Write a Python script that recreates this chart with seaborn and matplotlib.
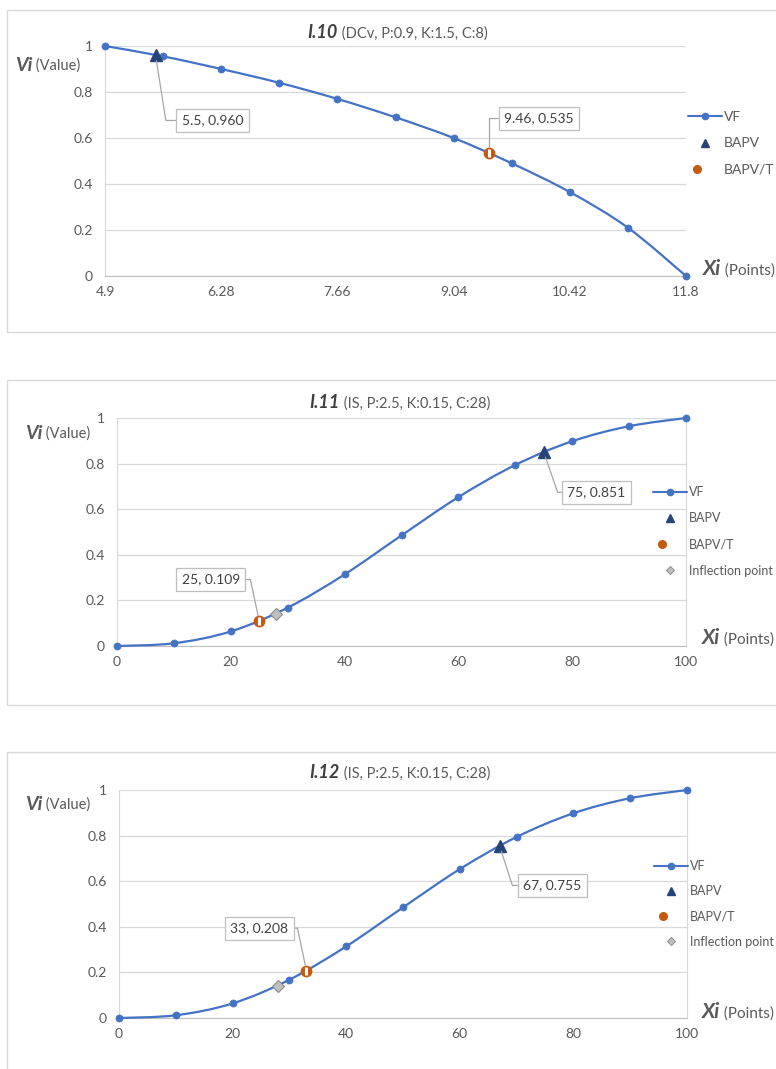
import numpy as np
import matplotlib
matplotlib.use("Agg")
import matplotlib.pyplot as plt
import seaborn as sns
from matplotlib.path import Path
from matplotlib.patches import PathPatch, Rectangle
from matplotlib.lines import Line2D
from matplotlib.legend_handler import HandlerTuple
from matplotlib.ticker import AutoMinorLocator

# ---------------- data ----------------
dcv_points = [4.9, 5.59, 6.28, 6.97, 7.66, 8.35, 9.04, 9.73, 10.42, 11.11, 11.8]
dcv_values = [1.0, 0.955, 0.90, 0.84, 0.77, 0.69, 0.60, 0.49, 0.365, 0.21, 0.0]
dcv_ticks = [4.9, 6.28, 7.66, 9.04, 10.42, 11.8]
dcv_tick_labels = ["4.9", "6.28", "7.66", "9.04", "10.42", "11.8"]

is_points = [0, 10, 20, 30, 40, 50, 60, 70, 80, 90, 100]
is_values = [0.0, 0.012, 0.064, 0.168, 0.314, 0.485, 0.653, 0.794, 0.898, 0.964, 1.0]
is_ticks = [0, 20, 40, 60, 80, 100]
is_tick_labels = ["0", "20", "40", "60", "80", "100"]

value_ticks = [0, 0.2, 0.4, 0.6, 0.8, 1.0]
value_tick_labels = ["0", "0.2", "0.4", "0.6", "0.8", "1"]

titles = ["I.10", "I.11", "I.12"]
subtitles = ["(DCv, P:0.9, K:1.5, C:8)",
             "(IS, P:2.5, K:0.15, C:28)",
             "(IS, P:2.5, K:0.15, C:28)"]

bapv = [(5.5, 0.960), (75, 0.851), (67, 0.755)]
bapv_t = [(9.46, 0.535), (25, 0.109), (33, 0.208)]
inflection = [None, (28, 0.142), (28, 0.142)]

series = [(dcv_points, dcv_values, dcv_ticks, dcv_tick_labels, 5),
          (is_points, is_values, is_ticks, is_tick_labels, 4),
          (is_points, is_values, is_ticks, is_tick_labels, 4)]

# ---------------- styling ----------------
BLUE = "#4472C4"
NAVY = "#264478"
ORANGE = "#C55A11"
GRID = "#D9D9D9"
TXT = "#595959"
DARK = "#404040"

sns.set_style("white")
plt.rcParams["font.family"] = ["Lato", "DejaVu Sans"]

W, H = 776, 1069
fig = plt.figure(figsize=(W / 100, H / 100), dpi=100)


def fx(px):
    return px / W


def fy(py):
    return 1 - py / H


# layout per panel, in pixels
layout = [
    dict(ax=(105, 46, 686, 276), box=(7, 10, 800, 332), title=(338, 33),
         vlab=(15, 65), xlab=(703, 269), leg=(688, 111), lsp=1.04, lfs=10,
         right_spine=False,
         ann_bapv=dict(off=(41, -47), rel=(0, 0.5), angB=-81),
         ann_bapvt=dict(off=(36, 25), rel=(0, 0.5), angB=90)),
    dict(ax=(117, 418, 686, 646), box=(7, 380, 800, 705), title=(340, 403),
         vlab=(25, 433), xlab=(702, 638), leg=(653, 486), lsp=1.14, lfs=9,
         right_spine=True,
         ann_bapv=dict(off=(38, -29), rel=(0, 0.5), angB=-71),
         ann_bapvt=dict(off=(-35, 30), rel=(1, 0.5), angB=102)),
    dict(ax=(119, 790, 687, 1018), box=(7, 752, 800, 1100), title=(340, 773),
         vlab=(25, 804), xlab=(702, 1012), leg=(654, 860), lsp=1.06, lfs=9,
         right_spine=True,
         ann_bapv=dict(off=(38, -28.5), rel=(0, 0.5), angB=-72),
         ann_bapvt=dict(off=(-34, 30.5), rel=(1, 0.5), angB=102)),
]


def smooth_path(xs, ys):
    """Cubic Bezier path through the points (Catmull-Rom style tangents)."""
    p = np.column_stack([xs, ys]).astype(float)
    n = len(p)
    verts, codes = [p[0]], [Path.MOVETO]
    for i in range(n - 1):
        p0 = p[i - 1] if i > 0 else p[i]
        p3 = p[i + 2] if i + 2 < n else p[i + 1]
        c1 = p[i] + (p[i + 1] - p0) / 6
        c2 = p[i + 1] - (p3 - p[i]) / 6
        verts += [c1, c2, p[i + 1]]
        codes += [Path.CURVE4] * 3
    return Path(verts, codes)


def add_label(ax, x, y, spec):
    ax.annotate(f"{x:g}, {y:.3f}", xy=(x, y), xytext=spec["off"],
                textcoords="offset points", ha="center", va="center",
                fontsize=10, color=DARK, zorder=6,
                bbox=dict(boxstyle="square,pad=0.4", fc="white", ec="#BFBFBF", lw=0.9),
                arrowprops=dict(arrowstyle="-", color="#A6A6A6", lw=0.9,
                                relpos=spec["rel"], shrinkA=0, shrinkB=4,
                                connectionstyle=f"angle,angleA=0,angleB={spec['angB']},rad=0"))


for k, (xs, ys, ticks, tlabels, nminor) in enumerate(series):
    L = layout[k]
    l, t, r, b = L["ax"]

    # panel frame
    bl, bt, br, bb = L["box"]
    fig.patches.append(Rectangle((fx(bl), fy(bb)), fx(br - bl), (bb - bt) / H,
                                 transform=fig.transFigure, fill=False,
                                 ec=GRID, lw=1.0, zorder=0))

    ax = fig.add_axes([fx(l), fy(b), fx(r - l), (b - t) / H])
    ax.set_xlim(xs[0], xs[-1])
    ax.set_ylim(0, 1)

    # horizontal gridlines
    ax.set_yticks(value_ticks)
    ax.set_yticklabels(value_tick_labels)
    ax.yaxis.grid(True, color=GRID, lw=0.9)
    ax.set_axisbelow(True)
    ax.set_xticks(ticks)
    ax.set_xticklabels(tlabels)
    ax.xaxis.set_minor_locator(AutoMinorLocator(nminor))

    for side in ["top", "right", "left", "bottom"]:
        ax.spines[side].set_visible(False)
    ax.spines["bottom"].set_visible(True)
    ax.spines["bottom"].set_color("#BFBFBF")
    ax.spines["left"].set_visible(True)
    ax.spines["left"].set_color(GRID)
    if L["right_spine"]:
        ax.spines["right"].set_visible(True)
        ax.spines["right"].set_color(GRID)

    ax.tick_params(axis="x", which="major", direction="inout", length=6, width=0.8,
                   color="#BFBFBF", labelsize=10, labelcolor=TXT, pad=4)
    ax.tick_params(axis="x", which="minor", direction="in", length=3, width=0.8,
                   color="#BFBFBF")
    ax.tick_params(axis="y", length=0, labelsize=10, labelcolor=TXT, pad=9)
    ax.set_xlabel("")
    ax.set_ylabel("")

    # smoothed value function with its sample points
    ax.add_patch(PathPatch(smooth_path(xs, ys), fill=False, ec=BLUE, lw=1.6,
                           zorder=3, clip_on=False))
    sns.scatterplot(x=xs, y=ys, ax=ax, color=BLUE, s=26, edgecolor=BLUE,
                    linewidth=0.5, zorder=4, clip_on=False, legend=False)

    # special points
    bx, by = bapv[k]
    ax.plot([bx], [by], ls="", marker="^", ms=8, color=NAVY, mec=NAVY, zorder=5)
    tx, ty = bapv_t[k]
    ax.plot([tx], [ty], ls="", marker="o", ms=7.5, mfc=ORANGE, mec=ORANGE, zorder=5)
    ax.plot([tx], [ty], ls="", marker="|", ms=6, mew=2.2, color="white", zorder=5)
    if inflection[k] is not None:
        ix, iy = inflection[k]
        ax.plot([ix], [iy], ls="", marker="D", ms=6, mfc="#BFBFBF", mec="#8C8C8C",
                mew=0.8, zorder=5)

    add_label(ax, bx, by, L["ann_bapv"])
    add_label(ax, tx, ty, L["ann_bapvt"])

    # legend
    h_vf = Line2D([], [], color=BLUE, lw=1.5, marker="o", ms=4.5)
    h_b = Line2D([], [], ls="", marker="^", ms=5.5, color=NAVY)
    h_t = (Line2D([], [], ls="", marker="o", ms=5.5, mfc=ORANGE, mec=ORANGE),
           Line2D([], [], ls="", marker="|", ms=4, mew=1.6, color="white"))
    handles, labels = [h_vf, h_b, h_t], ["VF", "BAPV", "BAPV/T"]
    if inflection[k] is not None:
        handles.append(Line2D([], [], ls="", marker="D", ms=4, mfc="#BFBFBF",
                              mec="#8C8C8C", mew=0.7))
        labels.append("Inflection point")
    lx, ly = L["leg"]
    hl = 34 / (L["lfs"] * 100 / 72)
    ax.legend(handles, labels, loc="upper left", bbox_to_anchor=(fx(lx), fy(ly)),
              bbox_transform=fig.transFigure, frameon=False, borderpad=0,
              borderaxespad=0, handlelength=hl, handletextpad=0.15,
              labelspacing=L["lsp"], fontsize=L["lfs"], labelcolor=TXT,
              handler_map={tuple: HandlerTuple(ndivide=None)})

    # title
    tx0, ty0 = L["title"]
    t1 = fig.text(fx(tx0), fy(ty0), titles[k], ha="right", va="center",
                  fontsize=13, fontweight="bold", fontstyle="italic", color=DARK)
    ax.annotate(" " + subtitles[k], xy=(1, 0), xycoords=t1, xytext=(0, 0.6),
                textcoords="offset points", ha="left", va="bottom",
                fontsize=10.5, color=TXT)

    # axis names
    vx, vy = L["vlab"]
    v1 = fig.text(fx(vx), fy(vy), "Vi", ha="left", va="center", fontsize=14,
                  fontweight="bold", fontstyle="italic", color=TXT)
    ax.annotate(" (Value)", xy=(1, 0), xycoords=v1, xytext=(0, 0.8),
                textcoords="offset points", ha="left", va="bottom",
                fontsize=10.5, color=TXT)
    xx, xy_ = L["xlab"]
    x1 = fig.text(fx(xx), fy(xy_), "Xi", ha="left", va="center", fontsize=15,
                  fontweight="bold", fontstyle="italic", color=TXT)
    ax.annotate(" (Points)", xy=(1, 0), xycoords=x1, xytext=(0, 1.0),
                textcoords="offset points", ha="left", va="bottom",
                fontsize=11, color=TXT)

fig.savefig("out.png", dpi=100, facecolor="white")
